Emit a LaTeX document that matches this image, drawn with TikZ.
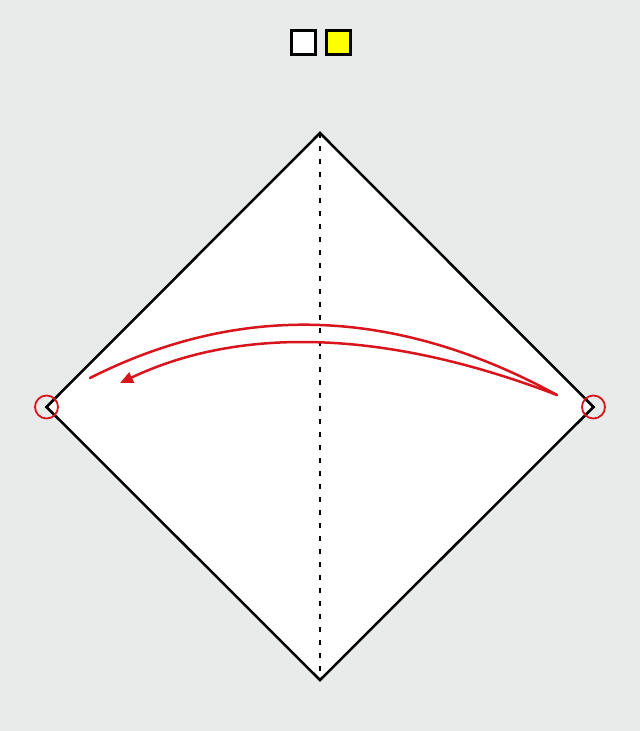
\documentclass[tikz,border=0pt]{standalone}
\usetikzlibrary{arrows.meta}
\definecolor{bg}{HTML}{E9EBEB}
\definecolor{foldred}{HTML}{D8141C}
\definecolor{sqyellow}{HTML}{FFFF00}
\begin{document}
\begin{tikzpicture}[x=1pt,y=-1pt,
  paperedge/.style={draw=black,line width=2.5pt,line join=miter},
  crease/.style={draw=black,line width=2.5pt,dash pattern=on 5pt off 8pt},
  colorsq/.style={draw=black,line width=3pt,minimum size=24pt,inner sep=0pt},
  marker/.style={draw=foldred,line width=1.8pt,circle,minimum size=23pt,inner sep=0pt},
  foldarrow/.style={draw=foldred,line width=2.5pt},
  foldtip/.style={-{Triangle[length=13pt,width=11pt]}}]
\fill[bg] (0,0) rectangle (640,731);
\useasboundingbox (0,0) rectangle (640,731);
% colour squares
\node[colorsq,fill=white] (front) at (303,42) {};
\node[colorsq,fill=sqyellow] (back) at (338,42) {};
% paper
\coordinate (T) at (320,133);
\coordinate (L) at (46.5,407);
\coordinate (R) at (593.5,407);
\coordinate (B) at (320,680);
\filldraw[paperedge,fill=white] (T) -- (R) -- (B) -- (L) -- cycle;
\draw[crease] (T) -- (B);
% markers
\node[marker] (cl) at (L) {};
\node[marker] (cr) at (R) {};
% fold arrow
\coordinate (a0) at (90,378);
\coordinate (a1) at (557,395);
\coordinate (a2) at (120,383);
\draw[foldarrow,line cap=round] (a0) .. controls (241,301.7) and (396.7,307.3) .. (a1);
\draw[foldarrow,foldtip] (a1) .. controls (386.7,329.7) and (241,325.7) .. (a2);
\end{tikzpicture}
\end{document}
